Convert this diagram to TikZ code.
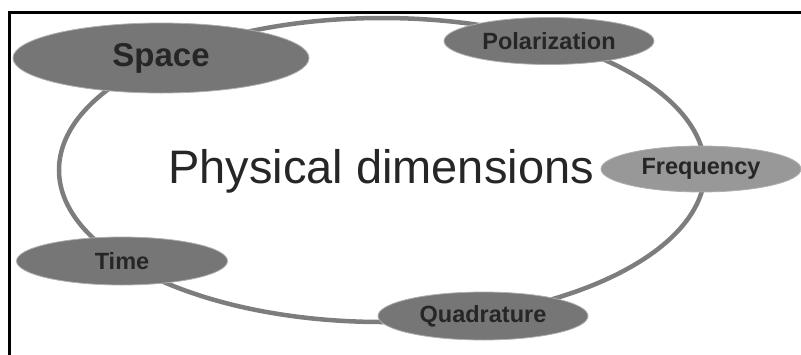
\documentclass[tikz,border=0pt]{standalone}
\usepackage{fontspec}
\setmainfont{Liberation Sans}
\usetikzlibrary{shapes.geometric}
\definecolor{loopgray}{RGB}{125,125,125}
\definecolor{nodegray}{RGB}{118,118,118}
\definecolor{lightnode}{RGB}{152,152,152}
\definecolor{rimgray}{RGB}{175,175,175}
\definecolor{txtdark}{RGB}{38,38,38}
\tikzset{
  dimnode/.style={ellipse, fill=nodegray, draw=rimgray, line width=0.8pt, inner sep=0pt,
    text=txtdark, font=\bfseries\fontsize{23.5}{25}\selectfont},
  loopline/.style={ellipse, draw=loopgray, line width=4.5pt, inner sep=0pt}
}
\begin{document}
\begin{tikzpicture}[x=1pt,y=-1pt]
\useasboundingbox (0,0) rectangle (801,354);
% frame
\draw[line width=3.8pt, black] (9.5,360) -- (9.5,12.5) -- (810,12.5);
% loop
\node[loopline, minimum width=646pt, minimum height=304pt] (loop) at (382,170) {};
% title
\node[anchor=base, text=txtdark, font=\fontsize{47}{50}\selectfont, inner sep=0pt] (title) at (381,183) {Physical dimensions};
% dimension nodes
\node[dimnode, minimum width=296pt, minimum height=70pt, font=\bfseries\fontsize{33}{35}\selectfont] (space) at (161,58) {Space};
\node[dimnode, minimum width=210pt, minimum height=47pt] (pol) at (549,41) {Polarization};
\node[dimnode, fill=lightnode, minimum width=200pt, minimum height=46pt] (freq) at (701,169) {Frequency};
\node[dimnode, minimum width=211pt, minimum height=48pt] (time) at (122,261) {Time};
\node[dimnode, minimum width=210pt, minimum height=48pt] (quad) at (483,316) {Quadrature};
\end{tikzpicture}
\end{document}
